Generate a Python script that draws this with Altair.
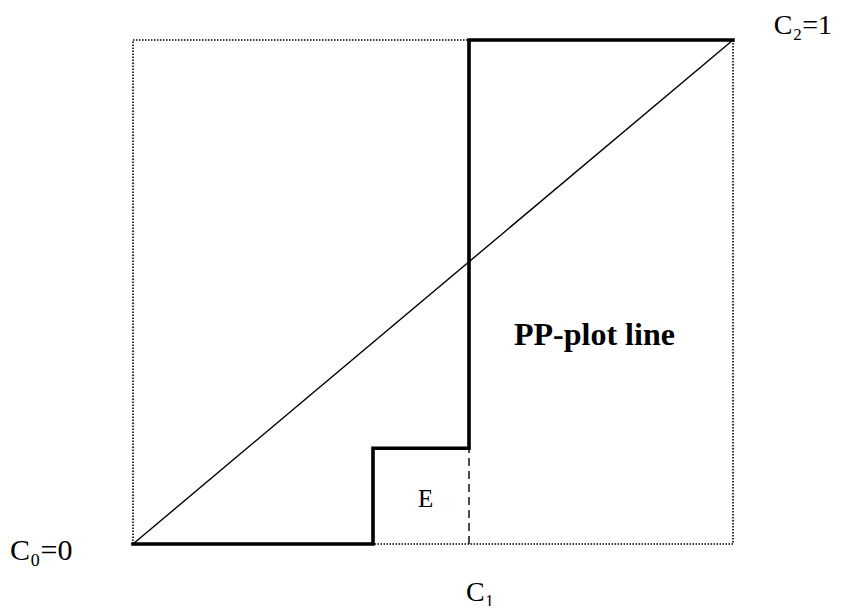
import altair as alt
import pandas as pd

# frame (unit square)
box_x0, box_x1 = [0.0], [1.0]
box_y0, box_y1 = [0.0], [1.0]

# diagonal reference line
diag_x = [0.0, 1.0]
diag_y = [0.0, 1.0]

# PP-plot step line
step_x = [0.0, 0.40, 0.40, 0.56, 0.56, 1.0]
step_y = [0.0, 0.0, 0.19, 0.19, 1.0, 1.0]

# dashed drop line
dash_x = [0.56, 0.56]
dash_y = [0.0, 0.19]

# labels
lab_text = ["C₂=1", "C₀=0", "C₁", "E"]
lab_x = [1.068, -0.205, 0.555, 0.475]
lab_y = [1.012, -0.032, -0.113, 0.073]
lab_size = [28, 30, 28, 25]

title_text = ["PP-plot line"]
title_x = [0.635]
title_y = [0.395]

xs = alt.Scale(domain=[0, 1], nice=False, zero=False)
ys = alt.Scale(domain=[0, 1], nice=False, zero=False)
X = lambda f: alt.X(f, type="quantitative", scale=xs, axis=None)
Y = lambda f: alt.Y(f, type="quantitative", scale=ys, axis=None)

box_df = pd.DataFrame({"x": box_x0, "x2": box_x1, "y": box_y0, "y2": box_y1})
box = alt.Chart(box_df).mark_rect(
    fillOpacity=0, stroke="#000", strokeWidth=1.6, strokeDash=[1.5, 1.5]
).encode(x=X("x"), x2="x2", y=Y("y"), y2="y2")

diag_df = pd.DataFrame({"x": diag_x, "y": diag_y, "o": range(len(diag_x))})
diag = alt.Chart(diag_df).mark_line(color="#000", strokeWidth=1.4).encode(
    x=X("x"), y=Y("y"), order="o:Q"
)

step_df = pd.DataFrame({"x": step_x, "y": step_y, "o": range(len(step_x))})
step = alt.Chart(step_df).mark_line(
    color="#000", strokeWidth=3.6, strokeJoin="miter", strokeCap="square"
).encode(x=X("x"), y=Y("y"), order="o:Q")

dash_df = pd.DataFrame({"x": dash_x, "y": dash_y, "o": range(len(dash_x))})
dash = alt.Chart(dash_df).mark_line(
    color="#000", strokeWidth=1.4, strokeDash=[8, 5]
).encode(x=X("x"), y=Y("y"), order="o:Q")

lab_df = pd.DataFrame({"t": lab_text, "x": lab_x, "y": lab_y, "s": lab_size})
labels = alt.Chart(lab_df).mark_text(
    font="Liberation Serif", align="left", baseline="alphabetic", color="#000"
).encode(x=X("x"), y=Y("y"), text="t:N", size=alt.Size("s:Q", scale=None, legend=None))

title_df = pd.DataFrame({"t": title_text, "x": title_x, "y": title_y})
title = alt.Chart(title_df).mark_text(
    font="Liberation Serif", fontWeight="bold", fontSize=32,
    align="left", baseline="alphabetic", color="#000"
).encode(x=X("x"), y=Y("y"), text="t:N")

chart = alt.layer(box, diag, dash, step, labels, title).properties(
    width=600, height=504,
    autosize=alt.AutoSizeParams(type="none"),
    padding={"left": 125, "top": 32, "right": 102, "bottom": 62},
    background="white",
).configure_view(stroke=None)

chart.save("out.html", embed_options={"renderer": "svg", "actions": False})
